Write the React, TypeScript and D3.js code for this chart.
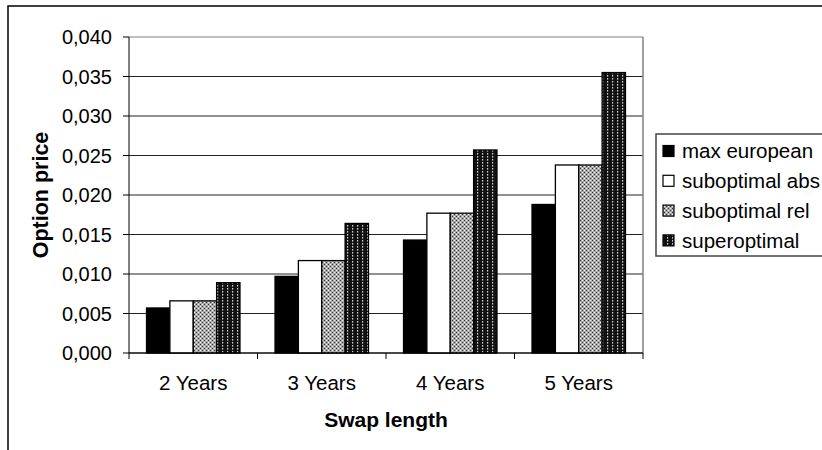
import React from "react";
import * as d3 from "d3";

const categories = ["2 Years", "3 Years", "4 Years", "5 Years"];
const seriesNames = ["max european", "suboptimal abs", "suboptimal rel", "superoptimal"];
const maxEuropean = [0.0057, 0.0097, 0.0143, 0.0188];
const suboptimalAbs = [0.0066, 0.0117, 0.0177, 0.0238];
const suboptimalRel = [0.0066, 0.0117, 0.0177, 0.0238];
const superoptimal = [0.0089, 0.0164, 0.0257, 0.0355];
const yTicks = [0, 0.005, 0.01, 0.015, 0.02, 0.025, 0.03, 0.035, 0.04];

const seriesValues = [maxEuropean, suboptimalAbs, suboptimalRel, superoptimal];
const fills = ["#000", "#fff", "url(#patRel)", "url(#patSuper)"];

const W = 822;
const H = 450;
const plot = { left: 129, right: 643, top: 37, bottom: 353 };
const FONT = "'Liberation Sans', Arial, sans-serif";

export default function App() {
  const x = d3.scaleBand<string>().domain(categories).range([plot.left, plot.right]).paddingInner(0).paddingOuter(0);
  const xs = d3.scaleBand<string>().domain(seriesNames).range([0, x.bandwidth()]).paddingInner(0).paddingOuter(0.75);
  const y = d3.scaleLinear().domain([0, 0.04]).range([plot.bottom, plot.top]);
  const fmt = (v: number) => d3.format(".3f")(v).replace(".", ",");
  const boundaries = [...categories.map((c) => x(c)!), plot.right];

  return (
    <svg width={W} height={H} style={{ position: "absolute", left: 0, top: 0, background: "#fff" }} fontFamily={FONT}>
      <defs>
        <pattern id="patRel" width="4" height="4" patternUnits="userSpaceOnUse">
          <rect width="4" height="4" fill="#a8a8a8" />
          <rect x="0" y="0" width="1" height="1" fill="#333" />
          <rect x="2" y="2" width="1" height="1" fill="#333" />
          <rect x="2" y="0" width="1" height="1" fill="#fff" />
          <rect x="0" y="2" width="1" height="1" fill="#fff" />
        </pattern>
        <pattern id="patSuper" width="5" height="3" patternUnits="userSpaceOnUse">
          <rect width="5" height="3" fill="#111" />
          <rect x="2" y="0" width="1.2" height="1.6" fill="#d0d0d0" />
        </pattern>
      </defs>
      <rect x={0} y={0} width={W} height={H} fill="#fff" />
      {/* chart area frame */}
      <rect x={8} y={6} width={W + 20} height={H + 20} fill="none" stroke="#000" strokeWidth={1.5} />

      {/* gridlines */}
      {yTicks.map((t) => (
        <line key={"g" + t} x1={plot.left} x2={plot.right} y1={y(t)} y2={y(t)} stroke={t === 0.04 ? "#808080" : "#222"} strokeWidth={1} />
      ))}
      <line x1={plot.right} x2={plot.right} y1={plot.top} y2={plot.bottom} stroke="#808080" strokeWidth={1.5} />

      {/* bars */}
      {categories.map((c, i) =>
        seriesNames.map((s, j) => {
          const v = seriesValues[j][i];
          return (
            <rect
              key={c + s}
              x={x(c)! + xs(s)!}
              y={y(v)}
              width={xs.bandwidth()}
              height={y(0) - y(v)}
              fill={fills[j]}
              stroke="#000"
              strokeWidth={1.3}
            />
          );
        })
      )}

      {/* axes */}
      <line x1={plot.left} x2={plot.left} y1={plot.top} y2={plot.bottom} stroke="#000" strokeWidth={1} />
      <line x1={plot.left} x2={plot.right} y1={plot.bottom} y2={plot.bottom} stroke="#000" strokeWidth={1} />
      {yTicks.map((t) => (
        <g key={"t" + t}>
          <line x1={plot.left - 6} x2={plot.left} y1={y(t)} y2={y(t)} stroke="#000" />
          <text x={plot.left - 17} y={y(t)} dy="0.36em" textAnchor="end" fontSize={20}>
            {fmt(t)}
          </text>
        </g>
      ))}
      {boundaries.map((b, i) => (
        <line key={"xb" + i} x1={b} x2={b} y1={plot.bottom} y2={plot.bottom + 6} stroke="#000" />
      ))}
      {categories.map((c) => (
        <text key={"xl" + c} x={x(c)! + x.bandwidth() / 2} y={383} dy="0.36em" textAnchor="middle" fontSize={20.5}>
          {c}
        </text>
      ))}
      <text x={(plot.left + plot.right) / 2} y={419} dy="0.36em" textAnchor="middle" fontSize={21} fontWeight="bold">
        Swap length
      </text>
      <text transform={`translate(40, ${(plot.top + plot.bottom) / 2}) rotate(-90)`} dy="0.36em" textAnchor="middle" fontSize={21.5} fontWeight="bold">
        Option price
      </text>

      {/* legend */}
      <rect x={656} y={134} width={200} height={122} fill="#fff" stroke="#444" strokeWidth={1.5} />
      {seriesNames.map((s, j) => {
        const cy = 151 + j * 29.8;
        return (
          <g key={"lg" + s}>
            <rect x={663} y={cy - 5.5} width={11} height={11} fill={fills[j]} stroke="#000" strokeWidth={1.2} />
            <text x={682} y={cy} dy="0.36em" fontSize={20.5}>
              {s}
            </text>
          </g>
        );
      })}
    </svg>
  );
}
